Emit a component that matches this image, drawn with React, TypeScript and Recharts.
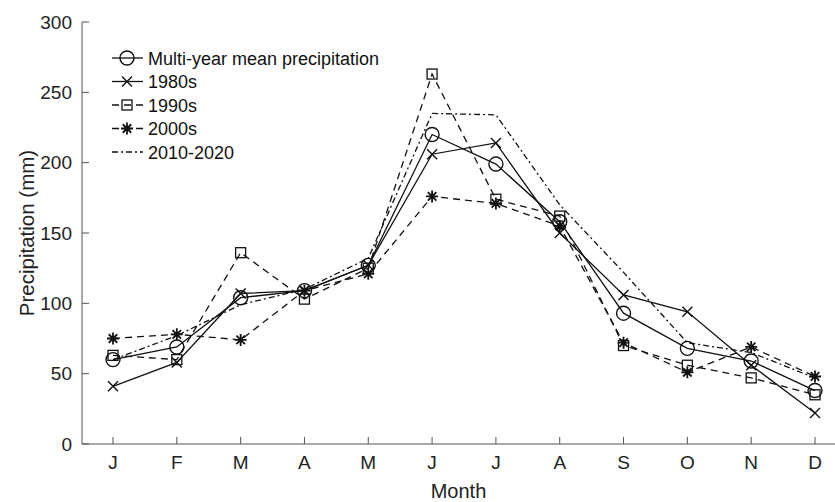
import { LineChart, Line, XAxis, YAxis } from 'recharts';

const months = ['J', 'F', 'M', 'A', 'M', 'J', 'J', 'A', 'S', 'O', 'N', 'D'];
const meanPrecip = [60, 69, 104, 109, 127, 220, 199, 158, 93, 68, 59, 38];
const s1980 = [41, 58, 107, 109, 127, 206, 214, 150, 106, 94, 56, 22];
const s1990 = [63, 60, 136, 103, 125, 263, 174, 162, 70, 56, 47, 35];
const s2000 = [75, 78, 74, 109, 121, 176, 171, 155, 72, 51, 69, 48];
const s2010 = [60, 77, 99, 110, 132, 235, 234, 170, 122, 72, 65, 47];
const yTicks = [0, 50, 100, 150, 200, 250, 300];

const data = months.map((m, i) => ({
  idx: i,
  month: m,
  mean: meanPrecip[i],
  s1980: s1980[i],
  s1990: s1990[i],
  s2000: s2000[i],
  s2010: s2010[i],
}));

const INK = '#111';
const AXIS = '#555';
const FONT = '"Liberation Sans", Arial, sans-serif';

const CircleDot = (p: any) => (
  <circle key={`c${p.index}`} cx={p.cx} cy={p.cy} r={7} fill="none" stroke={INK} strokeWidth={1.4} />
);
const CrossDot = (p: any) => (
  <path key={`x${p.index}`} d={`M${p.cx - 5},${p.cy - 5}L${p.cx + 5},${p.cy + 5}M${p.cx - 5},${p.cy + 5}L${p.cx + 5},${p.cy - 5}`} stroke={INK} strokeWidth={1.4} />
);
const SquareDot = (p: any) => (
  <rect key={`s${p.index}`} x={p.cx - 5} y={p.cy - 5} width={10} height={10} fill="none" stroke={INK} strokeWidth={1.3} />
);
const StarDot = (p: any) => {
  const r = 6;
  const d = [0, 45, 90, 135]
    .map((a) => {
      const t = (a * Math.PI) / 180;
      return `M${p.cx - r * Math.cos(t)},${p.cy - r * Math.sin(t)}L${p.cx + r * Math.cos(t)},${p.cy + r * Math.sin(t)}`;
    })
    .join('');
  return <path key={`a${p.index}`} d={d} stroke={INK} strokeWidth={1.8} />;
};

const legendItems = [
  { name: 'Multi-year mean precipitation', dash: undefined, Dot: CircleDot },
  { name: '1980s', dash: undefined, Dot: CrossDot },
  { name: '1990s', dash: '7 5', Dot: SquareDot },
  { name: '2000s', dash: '7 5', Dot: StarDot },
  { name: '2010-2020', dash: '6 3 2 3', Dot: null },
];

const LegendBox = () => (
  <svg width={320} height={125} style={{ display: 'block' }}>
    {legendItems.map((it, i) => {
      const y = 10 + i * 23.5;
      return (
        <g key={it.name}>
          <line x1={2} x2={33} y1={y} y2={y} stroke={INK} strokeWidth={1.3} strokeDasharray={it.dash} />
          {it.Dot ? it.Dot({ cx: 17, cy: y, index: i }) : null}
          <text x={38} y={y + 6.5} fontSize={18} fontFamily={FONT} fill={INK}>
            {it.name}
          </text>
        </g>
      );
    })}
  </svg>
);

export default function App() {
  return (
    <div style={{ position: 'absolute', left: 0, top: 0, width: 835, height: 502, background: '#fff' }}>
      <LineChart width={835} height={502} data={data} margin={{ top: 22, right: 0, bottom: 28, left: 0 }}>
        <XAxis
          dataKey="idx"
          type="number"
          domain={[0, 11]}
          ticks={[0, 1, 2, 3, 4, 5, 6, 7, 8, 9, 10, 11]}
          tickFormatter={(v: number) => months[v]}
          padding={{ left: 31, right: 20 }}
          stroke={AXIS}
          tickSize={-7}
          tickMargin={19}
          tick={{ fill: '#222', fontSize: 19, fontFamily: FONT }}
          label={{ value: 'Month', position: 'insideBottom', offset: -24, fill: '#222', fontSize: 20, fontFamily: FONT }}
        />
        <YAxis
          domain={[0, 300]}
          ticks={yTicks}
          width={82}
          stroke={AXIS}
          tickSize={-7}
          tickMargin={17}
          tick={{ fill: '#222', fontSize: 19, fontFamily: FONT }}
          label={{ value: 'Precipitation (mm)', angle: -90, position: 'insideLeft', offset: 27, fill: '#222', fontSize: 20.5, fontFamily: FONT, style: { textAnchor: 'middle' } }}
        />
        <Line dataKey="s2010" stroke={INK} strokeWidth={1.3} strokeDasharray="6 3 2 3" dot={false} isAnimationActive={false} />
        <Line dataKey="s2000" stroke={INK} strokeWidth={1.3} strokeDasharray="7 5" dot={StarDot} isAnimationActive={false} />
        <Line dataKey="s1990" stroke={INK} strokeWidth={1.3} strokeDasharray="7 5" dot={SquareDot} isAnimationActive={false} />
        <Line dataKey="s1980" stroke={INK} strokeWidth={1.3} dot={CrossDot} isAnimationActive={false} />
        <Line dataKey="mean" stroke={INK} strokeWidth={1.3} dot={CircleDot} isAnimationActive={false} />
      </LineChart>
      <div style={{ position: 'absolute', left: 110, top: 48 }}>
        <LegendBox />
      </div>
    </div>
  );
}
